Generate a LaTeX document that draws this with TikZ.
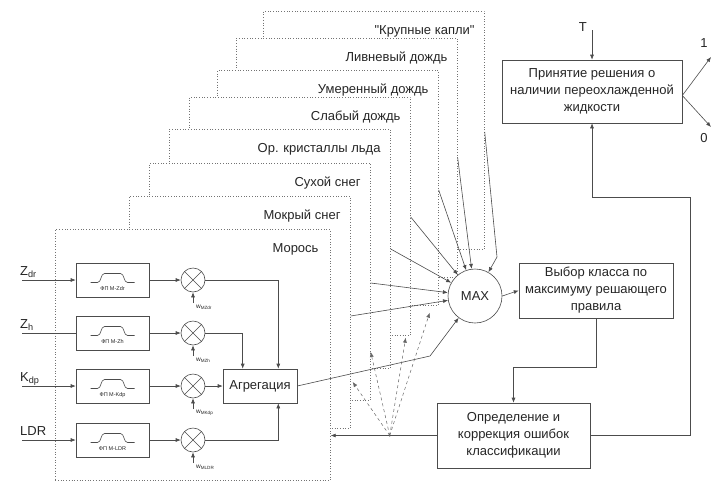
\documentclass[tikz,border=0pt]{standalone}
\usepackage{fontspec}
\setmainfont{Liberation Sans}
\newfontfamily\plainsans{Liberation Sans}
\usetikzlibrary{positioning,calc,arrows.meta}

\begin{document}
\begin{tikzpicture}[x=1pt,y=-1pt,
  every node/.style = {font=\fontsize{13}{17}\selectfont, text=black!85},
  myblock/.style = {shape=rectangle, draw=black!70, line width=0.6pt,
    align=center, fill=white},
  myclass/.style = {shape=rectangle, draw=black!55, dotted, line width=0.7pt,
    fill=white, anchor=north west, minimum width=221pt},
  mymult/.style = {shape=circle, draw=black!70, line width=0.6pt,
    minimum size=24pt, inner sep=0pt},
  myline/.style = {draw=black!70, line width=0.6pt},
  myarrow/.style = {myline, -{Latex[length=5pt,width=4pt]}},
  myfeed/.style = {draw=black!60, dashed, line width=0.5pt,
    -{Latex[length=5pt,width=4pt]}},
  mysmall/.style = {font=\fontsize{5.5}{6}\selectfont, inner sep=0pt}
  ]
  \fill[white] (0,0) rectangle (719,482);
  \useasboundingbox (0,0) rectangle (719,482);

  % classes, back to front
  \foreach \nm/\x/\y/\h/\txt in {krup/263/11/238/{\plainsans"Крупные капли"},
      livn/236/38/239/{Ливневый дождь}, umer/217/70/235/{Умеренный дождь},
      slab/189/97/238/{Слабый дождь}, kris/169/129/239/{Ор. кристаллы льда},
      such/149/163/237/{Сухой снег}, mokr/129/196/232/{Мокрый снег}}{
    \node[myclass, minimum height=\h pt] (\nm) at (\x,\y) {};
    \node[anchor=base east, inner sep=0pt] (\nm-lab)
      at ($(\nm.north east)+(-10,23)$) {\txt};
  }
  \node[myclass, minimum width=275pt, minimum height=251pt] (moros) at (55,229) {};
  \node[anchor=base east, inner sep=0pt] (moros-lab)
    at ($(moros.north east)+(-12,23)$) {Морось};

  % inputs, filters and weights
  \foreach \nm/\y/\lab/\fp/\w in {Zdr/280/{Z\textsubscript{dr}}/{M-Zdr}/{MZdr},
      Zh/333/{Z\textsubscript{h}}/{M-Zh}/{MZh},
      Kdp/386/{K\textsubscript{dp}}/{M-Kdp}/{MKdp},
      LDR/440/{LDR}/{M-LDR}/{MLDR}}{
    \coordinate (in\nm) at (22,\y);
    \node[anchor=base west, inner sep=0pt] (lab\nm) at ($(in\nm)+(-2,-5)$) {\lab};
    \node[myblock, minimum width=73pt, minimum height=34pt] (f\nm) at (112.5,\y) {};
    \draw[myline] ($(f\nm)+(-22,2.5)$) -- ++(7,0)
      .. controls +(4,0) and +(-4,0) .. ++(7,-9) -- ++(16,0)
      .. controls +(4,0) and +(-4,0) .. ++(7,9) -- ++(7,0);
    \node[mysmall] (fl\nm) at ($(f\nm)+(0,9)$) {ФП \fp};
    \node[mymult] (m\nm) at (193,\y) {};
    \draw[myline] (m\nm.45) -- (m\nm.225) (m\nm.135) -- (m\nm.315);
    \coordinate (w\nm) at (193,\y+23);
    \draw[myarrow] (w\nm) -- (m\nm.south);
    \node[anchor=west, mysmall, font=\fontsize{6.5}{7}\selectfont]
      (wl\nm) at ($(w\nm)+(3,4)$) {w\textsubscript{\w}};
    \draw[myarrow] (f\nm.east) -- (m\nm.west);
  }
  \draw[myarrow] (inZdr) -- (fZdr.west);
  \draw[myline] (inZh) -- (fZh.west);
  \draw[myarrow] (inKdp) -- (fKdp.west);
  \draw[myarrow] (inLDR) -- (fLDR.west);

  \node[myblock, minimum width=74pt, minimum height=34pt] (agg) at (260,386) {Агрегация};
  \draw[myarrow] (mZdr.east) -| ($(agg.north east)+(-19,0)$);
  \draw[myarrow] (mZh.east) -| ($(agg.north west)+(20,0)$);
  \draw[myarrow] (mKdp.east) -- (agg.west);
  \draw[myarrow] (mLDR.east) -| ($(agg.south east)+(-19,0)$);

  % decision part
  \node[shape=circle, draw=black!70, line width=0.6pt, fill=white,
    minimum size=54pt, inner sep=0pt] (max) at (475,296) {MAX};
  \node[myblock, minimum width=154pt, minimum height=55pt] (vybor) at (596,290.5)
    {Выбор класса по\\максимуму решающего\\правила};
  \node[myblock, minimum width=153pt, minimum height=65pt] (opred) at (513.5,435.5)
    {Определение и\\коррекция ошибок\\классификации};
  \node[myblock, minimum width=180pt, minimum height=63pt] (prin) at (592,91.5)
    {Принятие решения о\\наличии переохлажденной\\жидкости};

  \foreach \nm in {livn,umer,slab,kris,such,mokr}
    \draw[myarrow] ($(\nm.north east)+(0,120)$) -- (max);
  \coordinate (krupbend) at (497,257);
  \draw[myarrow] ($(krup.north east)+(0,121)$) -- (krupbend) -- (max);
  \coordinate (aggbend) at (430,356);
  \draw[myarrow] (agg.east) -- (aggbend) -- (max);

  \draw[myarrow] (max.east) -- (vybor.west);
  \draw[myarrow] (vybor.south) -- ++(0,49) -| (opred.north);
  \draw[myarrow] (opred.east) -| ($(prin.south)+(98,74)$) -| (prin.south);

  % error feedback
  \draw[myarrow] (opred.west) -- (opred.west -| moros.east);
  \coordinate (fb) at ($(opred.west)+(-47,0)$);
  \fill[black!70] (fb) circle (1.1pt);
  \coordinate (fbmokr) at ($(mokr.north east)+(2,186)$);
  \coordinate (fbsuch) at ($(such.north east)+(0,189)$);
  \coordinate (fbslab) at ($(slab.south east)+(-5,2)$);
  \coordinate (fbumer) at ($(umer.south east)+(-9,7)$);
  \foreach \nm in {fbmokr,fbsuch,fbslab,fbumer}
    \draw[myfeed] (fb) -- (\nm);

  % temperature and outputs
  \coordinate (tin) at (592,30);
  \node[anchor=east, inner sep=0pt] (tlab) at ($(tin)+(-5,-3)$) {T};
  \draw[myarrow] (tin) -- (prin.north);
  \coordinate (outv) at ($(prin.east)+(0,4)$);
  \coordinate (out1) at (711,57);
  \coordinate (out0) at (711,127);
  \draw[myarrow] (outv) -- (out1);
  \draw[myarrow] (outv) -- (out0);
  \node (lab1) at (704,43) {1};
  \node (lab0) at (704,138) {0};
\end{tikzpicture}
\end{document}
